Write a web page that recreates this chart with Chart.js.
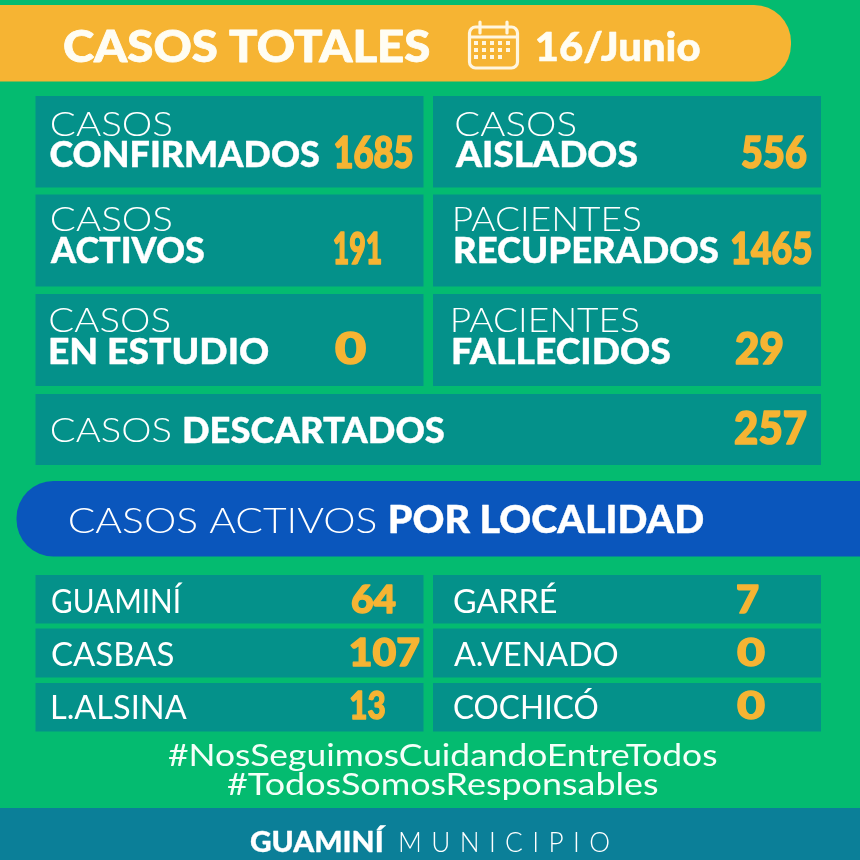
<!DOCTYPE html>
<html lang="es"><head><meta charset="utf-8">
<style>html,body{margin:0;padding:0;background:#04bb70;width:860px;height:860px;overflow:hidden}canvas{display:block}</style>
<script src="https://cdn.jsdelivr.net/npm/chart.js@4"></script></head>
<body><canvas id="c" width="860" height="860"></canvas>
<script>
// ---- data ----
const headerTitle = "CASOS TOTALES";
const headerDate = "16/Junio";
const summaryLight = ["CASOS","CASOS","CASOS","PACIENTES","CASOS","PACIENTES","CASOS"];
const summaryBold = ["CONFIRMADOS","AISLADOS","ACTIVOS","RECUPERADOS","EN ESTUDIO","FALLECIDOS","DESCARTADOS"];
const summaryValues = [1685,556,191,1465,0,29,257];
const localityTitleLight = "CASOS ACTIVOS";
const localityTitleBold = "POR LOCALIDAD";
const localities = ["GUAMINÍ","GARRÉ","CASBAS","A.VENADO","L.ALSINA","COCHICÓ"];
const localityValues = [64,7,107,0,13,0];
const hashtags = ["#NosSeguimosCuidandoEntreTodos","#TodosSomosResponsables"];
const footerBold = "GUAMINÍ";
const footerLight = "MUNICIPIO";

// ---- layout (x0,x1,y0,y1) ----
const TEAL="#04918a", ORANGE="#f6b433", BLUE="#0a56bc", FOOT="#0b7f98", WHITE="#ffffff";
const panelBoxes = [
 [0,791,5,81.5,ORANGE,{topRight:37,bottomRight:37,topLeft:0,bottomLeft:0}],
 [35.5,423.5,96,187.5,TEAL],[433,821,96,187.5,TEAL],
 [35.5,423.5,194.5,286.5,TEAL],[433,821,194.5,286.5,TEAL],
 [35.5,423.5,294,386,TEAL],[433,821,294,386,TEAL],
 [35.5,821,394,465,TEAL],
 [16.5,860,481,556.5,BLUE,{topLeft:37,bottomLeft:37,topRight:0,bottomRight:0}],
 [35.5,423.5,575,623.5,TEAL],[433,821,575,623.5,TEAL],
 [35.5,423.5,628.5,677.5,TEAL],[433,821,628.5,677.5,TEAL],
 [35.5,423.5,683,731.5,TEAL],[433,821,683,731.5,TEAL],
 [0,860,808,860,FOOT]
];
// [x0,x1,baseline] for each text
const summaryLightPos = [[51,171,136],[455.5,575,136],[51,171,231],[455,640,231],[49.5,169,331.5],[453,638,331.5],[51,170,442]];
const summaryBoldPos = [[50.5,319,166.5],[455,637,166.5],[50,204,262.5],[455,718,262.5],[50,268,363.5],[453,670,363.5],[184,444,442.5]];
const summaryValuePos = [[335,412,167.5],[742,806,167.5],[334,381,263.5],[732,811,263.5],[335,365,364],[736,782,364],[735,806,443.5]];
const localityPos = [[52,183,613],[454,557,613],[52,173,665.5],[454,618,665.5],[52,187,718.5],[454,598,718.5]];
const localityValuePos = [[352,396,613],[737,758,613],[351,419,665.5],[737,765,665.5],[351,385,718.5],[737,765,718.5]];
const LIGHT='"Lato"', HEAVY='"Lato"';

const datasets = panelBoxes.map(b=>({
  data:[{x:[b[0],b[1]],y:(b[2]+b[3])/2}],
  backgroundColor:b[4], barThickness:b[3]-b[2], borderWidth:0, borderSkipped:false,
  inflateAmount:0, borderRadius:b[5]||0, grouped:false
}));

const textPlugin = {
  id:"texts",
  afterDatasetsDraw(chart){
    const ctx=chart.ctx, X=chart.scales.x, Y=chart.scales.y;
    const fit=(txt,p,font,color,spacing,stroke)=>{
      const x0=X.getPixelForValue(p[0]), x1=X.getPixelForValue(p[1]), y=Y.getPixelForValue(p[2]);
      ctx.save(); ctx.font=font; ctx.fillStyle=color; ctx.strokeStyle=color; ctx.textBaseline="alphabetic"; ctx.textAlign="left"; ctx.lineJoin="round";
      ctx.letterSpacing=(spacing||0)+"px";
      const m=ctx.measureText(txt); const w=m.width-(spacing||0);
      const l=m.actualBoundingBoxLeft||0, inkW=(m.actualBoundingBoxRight||w)+l;
      ctx.translate(x0,y); const sx=(x1-x0)/(spacing?w:inkW); ctx.scale(sx,1);
      ctx.fillText(txt,spacing?0:l,0);
      if(stroke){ctx.lineWidth=stroke;ctx.strokeText(txt,spacing?0:l,0);}
      ctx.restore();
    };
    // header
    fit(headerTitle,[64,429,62],`900 44px ${HEAVY}`,"#fffdf3",0,0.8);
    fit(headerDate,[537,700,61],`900 39px ${HEAVY}`,"#fffdf3",0,0.5);
    drawCalendar(ctx,X,Y);
    // summary
    summaryLight.forEach((t,i)=>fit(t,summaryLightPos[i],`300 33px ${LIGHT}`,WHITE));
    summaryBold.forEach((t,i)=>fit(t,summaryBoldPos[i],`900 36px ${HEAVY}`,WHITE,0,0.4));
    summaryValues.forEach((v,i)=>fit(String(v),summaryValuePos[i],`900 ${i===6?45:43}px ${HEAVY}`,ORANGE,0,1.6));
    // locality
    fit(localityTitleLight,[70,376,532.5],`300 36px ${LIGHT}`,WHITE);
    fit(localityTitleBold,[390,703,532.5],`900 37px ${HEAVY}`,WHITE,0,0.4);
    localities.forEach((t,i)=>fit(t,localityPos[i],`400 32px ${LIGHT}`,WHITE));
    localityValues.forEach((v,i)=>fit(String(v),localityValuePos[i],`900 38px ${HEAVY}`,ORANGE,0,1.4));
    // hashtags
    fit(hashtags[0],[168,717,766],`400 31px ${LIGHT}`,"#f4fff8");
    fit(hashtags[1],[227,658,795],`400 31px ${LIGHT}`,"#f4fff8");
    // footer
    fit(footerBold,[250,386,851.5],`900 29px ${HEAVY}`,WHITE,0,0.3);
    fit(footerLight,[398,610,851.5],`300 28px ${LIGHT}`,WHITE,10);
  }
};
function drawCalendar(ctx,X,Y){
  const px=v=>X.getPixelForValue(v), py=v=>Y.getPixelForValue(v);
  ctx.save(); ctx.strokeStyle="#fff6e0"; ctx.fillStyle="#fff6e0"; ctx.lineWidth=3.2; ctx.lineCap="round";
  ctx.beginPath(); ctx.roundRect(px(469.5),py(27),48,41,6); ctx.stroke();
  ctx.beginPath(); ctx.moveTo(px(469.5),py(37)); ctx.lineTo(px(517.5),py(37)); ctx.stroke();
  [480,507].forEach(x=>{ctx.beginPath();ctx.moveTo(px(x),py(22));ctx.lineTo(px(x),py(33));ctx.stroke();});
  [43,50,57].forEach((y,r)=>{[476,484,492,500,508].forEach((x,c)=>{
    if(r===2&&c===4) return;
    ctx.fillRect(px(x)-2,py(y)-2,4,4);
  });});
  ctx.restore();
}

new Chart(document.getElementById("c"),{
  type:"bar",
  data:{datasets},
  plugins:[textPlugin],
  options:{
    indexAxis:"y", responsive:false, animation:false, devicePixelRatio:1,
    layout:{padding:0},
    plugins:{legend:{display:false},tooltip:{enabled:false},title:{display:false}},
    scales:{
      x:{type:"linear",min:0,max:860,display:false,offset:false},
      y:{type:"linear",min:0,max:860,reverse:true,display:false,offset:false}
    }
  }
});
</script></body></html>
